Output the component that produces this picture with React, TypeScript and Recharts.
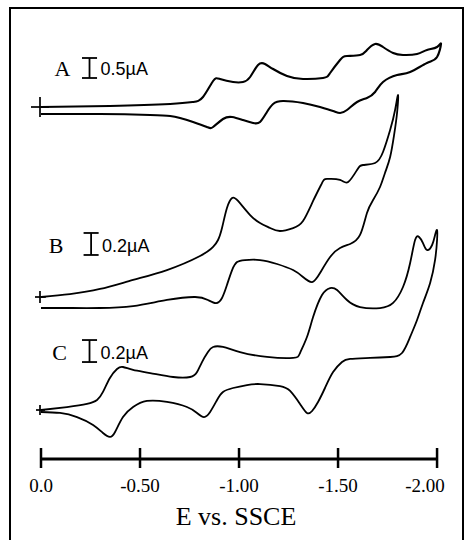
import React from 'react';
import { LineChart, Line, XAxis, YAxis, ReferenceLine, ReferenceDot, Label } from 'recharts';

// ---- data: potential (V vs. SSCE) and current (µA) for each cyclic voltammogram ----
const potentialA = [
  0, -0.348, -0.652, -0.768, -0.818, -0.869, -0.904, -0.970, -1.020, -1.056,
  -1.096, -1.131, -1.172, -1.242, -1.323, -1.424, -1.460, -1.510, -1.545, -1.611,
  -1.646, -1.687, -1.727, -1.778, -1.828, -1.899, -1.949, -2.000, -2.020,
  -2.000, -1.949, -1.864, -1.798, -1.727, -1.687, -1.646, -1.596, -1.545, -1.510,
  -1.475, -1.409, -1.323, -1.222, -1.172, -1.141, -1.106, -1.071, -1.020, -0.965,
  -0.919, -0.869, -0.838, -0.768, -0.702, -0.652, -0.551, -0.298, 0,
];
const currentA = [
  0, 0.025, 0.075, 0.125, 0.25, 0.65, 0.70, 0.625, 0.625, 0.75,
  1.05, 1.075, 0.95, 0.775, 0.70, 0.725, 0.85, 1.175, 1.275, 1.30,
  1.425, 1.575, 1.50, 1.35, 1.30, 1.325, 1.425, 1.50, 1.575,
  1.25, 1.10, 0.875, 0.80, 0.625, 0.375, 0.225, 0.125, -0.075, -0.15,
  -0.10, 0, 0.10, 0.15, 0.075, -0.125, -0.375, -0.40, -0.325, -0.25,
  -0.30, -0.50, -0.50, -0.375, -0.275, -0.225, -0.20, -0.175, -0.175,
];

const potentialB = [
  0, -0.146, -0.298, -0.465, -0.636, -0.803, -0.869, -0.894, -0.914, -0.939,
  -0.965, -0.995, -1.056, -1.106, -1.157, -1.207, -1.273, -1.323, -1.374, -1.419,
  -1.444, -1.510, -1.551, -1.596, -1.626, -1.687, -1.727, -1.763, -1.788, -1.803,
  -1.798, -1.783, -1.763, -1.737, -1.712, -1.677, -1.646, -1.611, -1.561, -1.510,
  -1.460, -1.409, -1.369, -1.323, -1.273, -1.192, -1.106, -1.030, -0.990, -0.965,
  -0.939, -0.914, -0.884, -0.843, -0.778, -0.636, -0.465, -0.298, -0.131, 0,
];
const currentB = [
  0, 0.027, 0.073, 0.155, 0.245, 0.373, 0.455, 0.518, 0.627, 0.809,
  0.900, 0.873, 0.745, 0.673, 0.627, 0.600, 0.627, 0.691, 0.873, 1.036,
  1.073, 1.064, 1.045, 1.155, 1.200, 1.218, 1.318, 1.518, 1.700, 1.836,
  1.673, 1.473, 1.273, 1.127, 1.000, 0.882, 0.764, 0.564, 0.482, 0.445,
  0.364, 0.218, 0.136, 0.182, 0.245, 0.300, 0.336, 0.336, 0.318, 0.245,
  0.109, -0.009, -0.055, -0.027, 0, -0.027, -0.082, -0.100, -0.100, -0.100,
];

const potentialC = [
  0, -0.131, -0.232, -0.283, -0.313, -0.348, -0.384, -0.414, -0.465, -0.551,
  -0.667, -0.753, -0.788, -0.813, -0.843, -0.869, -0.919, -1.005, -1.141, -1.273,
  -1.308, -1.343, -1.374, -1.419, -1.460, -1.495, -1.545, -1.611, -1.712, -1.778,
  -1.828, -1.864, -1.889, -1.909, -1.929, -1.949, -1.975, -1.990, -2.000,
  -2.000, -1.990, -1.965, -1.929, -1.899, -1.864, -1.823, -1.763, -1.662, -1.561,
  -1.520, -1.475, -1.434, -1.399, -1.369, -1.343, -1.308, -1.258, -1.207, -1.106,
  -1.040, -0.970, -0.919, -0.889, -0.854, -0.823, -0.788, -0.737, -0.636, -0.535,
  -0.465, -0.414, -0.374, -0.348, -0.313, -0.263, -0.182, -0.096, 0,
];
const currentC = [
  0, 0.027, 0.055, 0.091, 0.164, 0.291, 0.373, 0.391, 0.364, 0.336,
  0.300, 0.300, 0.345, 0.436, 0.527, 0.573, 0.573, 0.527, 0.482, 0.473,
  0.518, 0.664, 0.845, 1.045, 1.109, 1.091, 1.000, 0.936, 0.927, 0.973,
  1.118, 1.336, 1.545, 1.573, 1.518, 1.455, 1.500, 1.591, 1.636,
  1.545, 1.364, 1.155, 0.973, 0.818, 0.664, 0.518, 0.482, 0.473, 0.464,
  0.436, 0.345, 0.200, 0.073, -0.009, -0.027, 0.055, 0.173, 0.218, 0.236,
  0.227, 0.200, 0.164, 0.091, -0.018, -0.064, -0.027, 0.027, 0.073, 0.082,
  0.027, -0.064, -0.200, -0.245, -0.209, -0.136, -0.064, -0.027, -0.018,
];

const traceNames = ['A', 'B', 'C'];
const scaleBarCurrent = [0.5, 0.2, 0.2]; // µA
const scaleBarLabels = ['0.5\u00b5A', '0.2\u00b5A', '0.2\u00b5A'];
const scaleBarPotential = [-0.245, -0.253, -0.245];
const scaleBarBase = [0.725, 0.382, 0.436]; // µA, on each trace's own scale

const xTicks = [0, -0.5, -1.0, -1.5, -2.0];
const xTickLabels = ['0.0', '-0.50', '-1.00', '-1.50', '-2.00'];
const axisTitle = 'E vs. SSCE';

// ---- layout (vertical stacking of the three traces) ----
const W = 465;
const H = 540;
const OFFSETS = [352, 162, 49];
const GAINS = [40, 110, 110];
const CROSS = [10, 6, 5];
const LETTER_DX = [-27, -35, -30];
const WIDTHS = [2.1, 1.8, 1.8];
const SERIF = '"Liberation Serif", "Times New Roman", serif';
const SANS = '"Liberation Sans", Arial, sans-serif';

const potentials = [potentialA, potentialB, potentialC];
const currents = [currentA, currentB, currentC];

const traces = potentials.map((pot, t) =>
  pot.map((e, i) => ({ E: e, y: OFFSETS[t] + GAINS[t] * currents[t][i] }))
);

const makeCross = (size: number) => (props: any) => {
  const { cx, cy, index } = props;
  if (index !== 0 || cx == null) return <g key={`n${index}`} />;
  return (
    <g key="cross">
      <line x1={cx - size} x2={cx + size * 0.8} y1={cy} y2={cy} stroke="#000" strokeWidth={1.7} />
      <line x1={cx - 1} x2={cx - 1} y1={cy - size} y2={cy + size} stroke="#000" strokeWidth={1.7} />
    </g>
  );
};

const Tick = (props: any) => {
  const { x, y, payload } = props;
  const i = xTicks.indexOf(payload.value);
  const tx = i === xTicks.length - 1 ? x - 12 : x;
  return (
    <g>
      <line x1={x} x2={x} y1={y - 11} y2={y + 9} stroke="#000" strokeWidth={2.5} />
      <text x={tx} y={y + 33} textAnchor="middle" fontFamily={SERIF} fontSize={19} fill="#000">
        {xTickLabels[i]}
      </text>
    </g>
  );
};

const makeAnnot = (t: number) => (props: any) => {
  const { cx, cy } = props;
  return (
    <g>
      <text x={cx + LETTER_DX[t]} y={cy - 2} textAnchor="middle" fontFamily={SERIF} fontSize={22} fill="#000">
        {traceNames[t]}
      </text>
      <text x={cx + 11} y={cy - 3} fontFamily={SANS} fontSize={18} fill="#000">
        {scaleBarLabels[t]}
      </text>
    </g>
  );
};

export default function App() {
  return (
    <div style={{ position: 'absolute', left: 0, top: 0, width: W, height: H, overflow: 'hidden', background: '#fff' }}>
      <div
        style={{
          position: 'absolute',
          left: 9,
          top: 7,
          width: 455,
          height: 600,
          boxSizing: 'border-box',
          borderLeft: '2px solid #000',
          borderTop: '2px solid #000',
          borderRight: '2px solid #000',
        }}
      />
      <div style={{ position: 'absolute', left: 0, top: 0 }}>
        <LineChart width={W} height={H} margin={{ top: 20, right: 22, left: 41, bottom: 0 }}>
          <XAxis
            type="number"
            dataKey="E"
            domain={[-2.03, 0]}
            reversed
            ticks={xTicks}
            interval={0}
            axisLine={false}
            tickLine={false}
            tickSize={0}
            tickMargin={0}
            tick={<Tick />}
            height={81}
          >
            <Label
              content={(p: any) => {
                const vb = p.viewBox || { x: 41, y: 459, width: 402 };
                return (
                  <text x={vb.x + 195} y={vb.y + 66} textAnchor="middle" fontFamily={SERIF} fontSize={26} fill="#000">
                    {axisTitle}
                  </text>
                );
              }}
            />
          </XAxis>
          <YAxis type="number" hide domain={[0, 439]} />
          <ReferenceLine
            segment={[{ x: xTicks[0], y: 0 }, { x: xTicks[xTicks.length - 1], y: 0 }]}
            stroke="#000"
            strokeWidth={3}
          />
          {traceNames.map((n, t) => {
            const e = scaleBarPotential[t];
            const b = OFFSETS[t] + GAINS[t] * scaleBarBase[t];
            const top = b + GAINS[t] * scaleBarCurrent[t];
            return (
              <React.Fragment key={n}>
                <ReferenceLine segment={[{ x: e, y: b }, { x: e, y: top }]} stroke="#000" strokeWidth={1.8} />
                <ReferenceLine segment={[{ x: e - 0.038, y: b }, { x: e + 0.038, y: b }]} stroke="#000" strokeWidth={1.8} />
                <ReferenceLine segment={[{ x: e - 0.038, y: top }, { x: e + 0.038, y: top }]} stroke="#000" strokeWidth={1.8} />
                <ReferenceDot x={e} y={b} r={0} shape={makeAnnot(t)} />
              </React.Fragment>
            );
          })}
          {traces.map((d, t) => (
            <Line
              key={traceNames[t]}
              data={d}
              dataKey="y"
              type="natural"
              stroke="#000"
              strokeWidth={WIDTHS[t]}
              dot={makeCross(CROSS[t])}
              activeDot={false}
              isAnimationActive={false}
            />
          ))}
        </LineChart>
      </div>
    </div>
  );
}
